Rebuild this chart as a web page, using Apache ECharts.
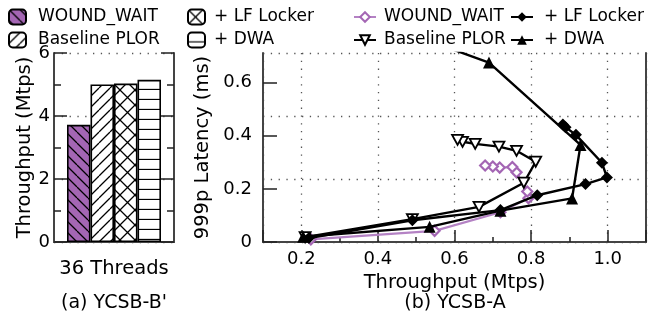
<!DOCTYPE html>
<html lang="en">
<head>
<meta charset="UTF-8">
<title>YCSB throughput and latency</title>
<script src="https://cdn.jsdelivr.net/npm/echarts@6.0.0/dist/echarts.min.js"></script>
<style>
  html, body { margin: 0; padding: 0; background: #fff; }
  #chart { width: 657px; height: 322px; }
</style>
</head>
<body>
<div id="chart"></div>
<script>
// (a) YCSB-B' : throughput at 36 threads
var barCategories = ['36 Threads'];
var barWoundWait = [3.72];
var barBaseline = [5.0];
var barLfLocker = [5.03];
var barDwa = [5.15];

// (b) YCSB-A : [throughput (Mtps), 999p latency (ms)]
var lineWoundWait = [[0.225, 0.010], [0.548, 0.042], [0.720, 0.112], [0.793, 0.165], [0.790, 0.190],
                     [0.762, 0.262], [0.751, 0.282], [0.718, 0.280], [0.700, 0.284], [0.680, 0.288]];
var lineBaseline = [[0.210, 0.018], [0.490, 0.086], [0.664, 0.132], [0.781, 0.223], [0.812, 0.302],
                    [0.762, 0.343], [0.716, 0.359], [0.654, 0.369], [0.621, 0.377], [0.608, 0.384]];
var lineLfLocker = [[0.220, 0.015], [0.490, 0.082], [0.720, 0.120], [0.816, 0.176], [0.942, 0.218],
                    [0.998, 0.243], [0.985, 0.298], [0.917, 0.403], [0.890, 0.432], [0.883, 0.442]];
var lineDwa = [[0.205, 0.020], [0.535, 0.057], [0.720, 0.118], [0.907, 0.164], [0.929, 0.365],
               [0.690, 0.675], [0.450, 0.800]];

var xTickLabels = ['0.2', '0.4', '0.6', '0.8', '1.0'];

var FONT = 'DejaVu Sans';
var PURPLE = '#a466b4';
var FRAME = '#444';
var DOTS = { color: '#555', width: 1.3, type: [1.3, 6.5] };

// hatch fills for the bars
function hatch(bg, kind, s) {
  var c = document.createElement('canvas');
  c.width = s; c.height = s;
  var g = c.getContext('2d');
  g.fillStyle = bg;
  g.fillRect(0, 0, s, s);
  g.strokeStyle = '#000';
  g.lineWidth = 1.3;
  g.beginPath();
  for (var k = -1; k <= 1; k++) {
    if (kind === 'back' || kind === 'cross') { g.moveTo(k * s, 0); g.lineTo(k * s + s, s); }
    if (kind === 'fwd' || kind === 'cross') { g.moveTo(k * s, s); g.lineTo(k * s + s, 0); }
  }
  if (kind === 'horiz') { g.moveTo(0, s - 0.5); g.lineTo(s, s - 0.5); }
  g.stroke();
  return { image: c, repeat: 'repeat' };
}

function barSeries(name, data, fill) {
  return {
    name: 'bar-' + name, type: 'bar', xAxisIndex: 0, yAxisIndex: 0,
    data: data, barWidth: 23.5, barGap: '0%',
    itemStyle: { color: fill, borderColor: '#000', borderWidth: 1.6, borderRadius: 0 }
  };
}

var legendText = { fontFamily: FONT, fontSize: 17, color: '#000', lineHeight: 17 };
function legend(names, left, pad, icon) {
  var l = {
    orient: 'vertical', left: left, top: 8.5, padding: 0, itemGap: 6,
    selectedMode: false, data: names,
    formatter: function (n) { return n.replace('bar-', ''); },
    textStyle: Object.assign({ padding: [0, 0, 0, pad] }, legendText)
  };
  if (icon) {
    l.icon = 'roundRect'; l.itemWidth = 17; l.itemHeight = 15;
  } else {
    l.itemWidth = 22; l.itemHeight = 12;
  }
  return l;
}

var chart = echarts.init(document.getElementById('chart'), null, { renderer: 'canvas' });
var axisLine = { show: true, lineStyle: { color: FRAME, width: 2 } };
var label18 = { fontFamily: FONT, fontSize: 18, color: '#000' };
var nameStyle = { fontFamily: FONT, fontSize: 19.5, color: '#000' };

chart.setOption({
  animation: false,
  grid: [
    { left: 54, top: 53, width: 120, height: 189 },
    { left: 263, top: 53, right: 11, height: 189 }
  ],
  legend: [
    legend(['bar-WOUND_WAIT', 'bar-Baseline PLOR'], 8, 7, true),
    legend(['bar-+ LF Locker', 'bar-+ DWA'], 187, 4, true),
    legend(['WOUND_WAIT', 'Baseline PLOR'], 353, 3, false),
    legend(['+ LF Locker', '+ DWA'], 510, 6, false)
  ],
  xAxis: [
    { type: 'category', gridIndex: 0, data: barCategories, axisLine: axisLine,
      axisTick: { show: false }, axisLabel: { margin: 17, fontSize: 19.5, fontFamily: FONT, color: '#000' } },
    { type: 'value', gridIndex: 1, min: 0.1, max: 1.1, splitNumber: 5, axisLine: axisLine,
      axisTick: { inside: true, length: 12, lineStyle: { color: '#222', width: 1.5 } },
      minorTick: { show: true, splitNumber: 2, length: 5, lineStyle: { color: '#222', width: 1.5 } },
      splitLine: { show: true, lineStyle: DOTS },
      axisLabel: Object.assign({ margin: 8, showMinLabel: false, showMaxLabel: false,
        formatter: function (v) { var t = v.toFixed(1); return xTickLabels.indexOf(t) >= 0 ? t : ''; } }, label18),
      name: 'Throughput (Mtps)', nameLocation: 'middle', nameGap: 27, nameTextStyle: nameStyle },
    { type: 'value', gridIndex: 0, position: 'top', min: 0, max: 1, axisLine: axisLine,
      axisTick: { show: false }, axisLabel: { show: false }, splitLine: { show: false } },
    { type: 'value', gridIndex: 1, position: 'top', min: 0.1, max: 1.1, axisLine: axisLine,
      axisTick: { show: false }, axisLabel: { show: false }, splitLine: { show: false } }
  ],
  yAxis: [
    { type: 'value', gridIndex: 0, min: 0, max: 6, interval: 2, axisLine: axisLine,
      axisTick: { inside: true, length: 13, lineStyle: { color: '#222', width: 1.5 } },
      minorTick: { show: true, splitNumber: 2, length: 7, lineStyle: { color: '#222', width: 1.5 } },
      splitLine: { show: true, lineStyle: DOTS },
      axisLabel: Object.assign({ margin: 4 }, label18),
      name: 'Throughput (Mtps)', nameLocation: 'middle', nameGap: 19, nameTextStyle: nameStyle },
    { type: 'value', gridIndex: 0, position: 'right', min: 0, max: 6, interval: 2, axisLine: axisLine,
      axisTick: { inside: true, length: 13, lineStyle: { color: '#222', width: 1.5 } },
      minorTick: { show: true, splitNumber: 2, length: 7, lineStyle: { color: '#222', width: 1.5 } },
      splitLine: { show: false }, axisLabel: { show: false } },
    { type: 'value', gridIndex: 1, min: 0, max: 0.711, interval: 0.2, axisLine: axisLine,
      axisTick: { inside: true, length: 14, lineStyle: { color: '#222', width: 1.5 } },
      splitLine: { show: false },
      axisLabel: Object.assign({ margin: 11, showMaxLabel: false,
        formatter: function (v) { return v === 0 ? '0' : v.toFixed(1); } }, label18),
      name: '999p Latency (ms)', nameLocation: 'middle', nameGap: 46, nameTextStyle: nameStyle },
    { type: 'value', gridIndex: 1, position: 'right', min: 0, max: 0.711, interval: 0.237, axisLine: axisLine,
      axisTick: { show: false }, axisLabel: { show: false },
      splitLine: { show: true, lineStyle: DOTS } }
  ],
  graphic: [
    { type: 'text', x: 114, y: 303, style: { text: "(a) YCSB-B'", font: '19px "' + FONT + '"', fill: '#000', textAlign: 'center', textVerticalAlign: 'middle' } },
    { type: 'text', x: 455, y: 303, style: { text: '(b) YCSB-A', font: '19px "' + FONT + '"', fill: '#000', textAlign: 'center', textVerticalAlign: 'middle' } }
  ],
  series: [
    barSeries('WOUND_WAIT', barWoundWait, hatch(PURPLE, 'back', 11)),
    barSeries('Baseline PLOR', barBaseline, hatch('#fff', 'fwd', 11)),
    barSeries('+ LF Locker', barLfLocker, hatch('#fff', 'cross', 15)),
    barSeries('+ DWA', barDwa, hatch('#fff', 'horiz', 10)),
    { name: 'WOUND_WAIT', type: 'line', xAxisIndex: 1, yAxisIndex: 2, data: lineWoundWait,
      symbol: 'diamond', symbolSize: 10, z: 2,
      itemStyle: { color: '#fff', borderColor: PURPLE, borderWidth: 2.2 },
      lineStyle: { color: '#b482c4', width: 2.2 } },
    { name: 'Baseline PLOR', type: 'line', xAxisIndex: 1, yAxisIndex: 2, data: lineBaseline,
      symbol: 'path://M0,0 L10,0 L5,9 Z', symbolSize: [11, 10], z: 3,
      itemStyle: { color: '#fff', borderColor: '#000', borderWidth: 1.8 },
      lineStyle: { color: '#000', width: 2.4 } },
    { name: '+ LF Locker', type: 'line', xAxisIndex: 1, yAxisIndex: 2, data: lineLfLocker,
      symbol: 'diamond', symbolSize: 12, z: 4,
      itemStyle: { color: '#000' }, lineStyle: { color: '#000', width: 2.4 } },
    { name: '+ DWA', type: 'line', xAxisIndex: 1, yAxisIndex: 2, data: lineDwa,
      symbol: 'triangle', symbolSize: 12, z: 4,
      itemStyle: { color: '#000' }, lineStyle: { color: '#000', width: 2.4 } }
  ]
});
</script>
</body>
</html>
